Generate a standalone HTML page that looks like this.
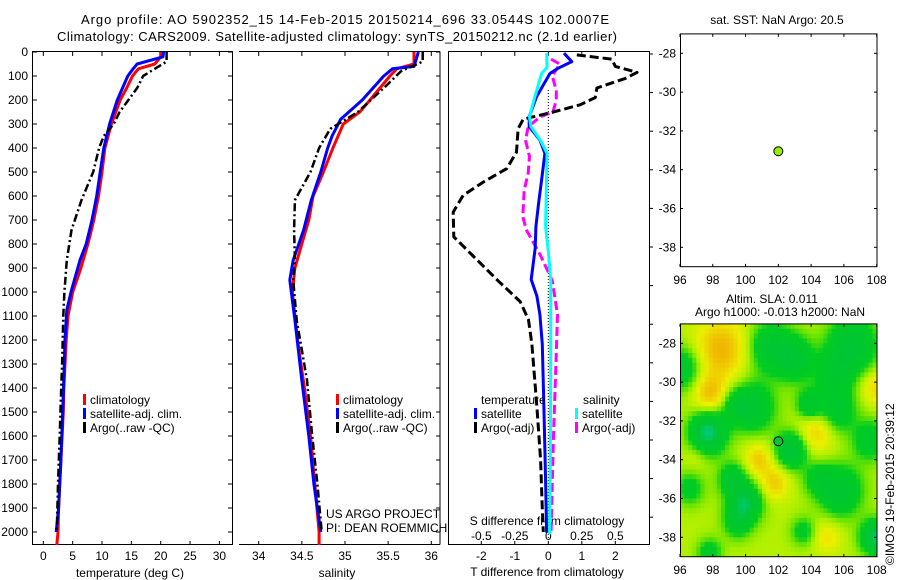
<!DOCTYPE html>
<html><head><meta charset="utf-8"><style>
body{margin:0;background:#fff;}
svg{display:block;font-family:"Liberation Sans",sans-serif;}
text{fill:#000;}
</style></head><body>
<svg id="c" width="900" height="580" viewBox="0 0 900 580" xmlns="http://www.w3.org/2000/svg">
<rect width="900" height="580" fill="#fff"/>
<text x="345" y="24" font-size="13" text-anchor="middle" textLength="528">Argo profile: AO 5902352_15 14-Feb-2015 20150214_696 33.0544S 102.0007E</text>
<text x="337" y="41" font-size="13" text-anchor="middle" textLength="560">Climatology: CARS2009. Satellite-adjusted climatology: synTS_20150212.nc (2.1d earlier)</text>
<g id="g"></g>
</svg>
<script>
// ---- data ----
const tempClimDepth=[0,20,50,70,100,150,200,300,400,500,600,700,800,900,1000,1100,1200,1300,1400,1500,1600,1700,1800,1900,2000,2054];
const tempClimVals=[20,20,19,16.2,15.2,14.2,13.1,11.6,10.5,10,9.4,8.6,7.6,6.4,5.0,4.2,3.9,3.7,3.5,3.4,3.2,3.0,2.8,2.6,2.5,2.3];
const tempSatDepth=[0,20,50,70,100,200,300,400,500,600,700,800,867,992,1075,1200,1367,1500,1700,1900,2000];
const tempSatVals=[20.5,20.4,16,15.3,14.4,12.6,11.3,10.3,9.7,9.1,8.3,7.3,6.25,4.8,4.0,3.7,3.5,3.3,3.0,2.6,2.2];
const tempArgoDepth=[0,40,70,100,150,200,250,300,350,400,500,617,742,867,1000,1100,1300,1367,1600,1800,2000];
const tempArgoVals=[21,21,19,17,16,14.5,13,12,10.3,9.5,8.5,6.5,4.8,4.0,3.6,3.4,3.2,3.1,2.8,2.5,2.3];
const salClimDepth=[0,50,70,100,200,250,300,400,500,600,700,800,900,1000,1200,1400,1600,1800,2000,2054];
const salClimVals=[35.8,35.8,35.6,35.52,35.29,35.17,34.98,34.86,34.75,34.63,34.58,34.5,34.42,34.39,34.45,34.53,34.6,34.65,34.7,34.7];
const salSatDepth=[0,60,70,100,200,280,350,400,500,617,742,867,950,1117,1367,1600,1800,2000];
const salSatVals=[35.85,35.8,35.55,35.45,35.2,34.95,34.85,34.8,34.72,34.61,34.52,34.40,34.36,34.42,34.5,34.58,34.64,34.72];
const salArgoDepth=[0,40,80,150,250,320,400,500,617,742,867,950,1117,1367,1600,1800,2000];
const salArgoVals=[35.9,35.9,35.65,35.45,35.15,34.83,34.7,34.6,34.42,34.41,34.42,34.4,34.44,34.56,34.62,34.68,34.73];
const dTsatDepth=[5,40,68,89,186,270,311,367,422,533,630,728,817,948,1017,1094,1218,1479,1787,2002];
const dTsatVals=[0.47,0.7,0.29,0.05,-0.35,-0.57,-0.57,-0.25,-0.1,-0.2,-0.29,-0.37,-0.39,-0.51,-0.34,-0.25,-0.18,-0.13,-0.08,-0.05];
const dTargoDepth=[12,30,60,85,110,150,190,220,250,280,320,417,486,542,597,667,770,848,953,1040,1116,1218,1479,1700,1904,2000];
const dTargoVals=[0.85,1.9,2.0,2.65,2.3,1.45,1.4,0.95,0.15,-0.75,-0.9,-0.95,-1.24,-1.94,-2.54,-2.84,-2.82,-2.26,-1.5,-0.84,-0.59,-0.49,-0.34,-0.23,-0.18,-0.15];
const dSsatDepth=[5,65,89,186,270,311,367,422,728,830,950,1300,1700,2010];
const dSsatVals=[-0.012,-0.01,-0.05,-0.1,-0.14,-0.13,-0.06,-0.01,-0.02,0,0.018,0.018,0.015,0.01];
const dSargoDepth=[30,50,100,160,200,250,270,311,367,436,505,575,686,740,848,953,1094,1317,1610,1904,2010];
const dSargoVals=[0.02,0.085,0.03,0.06,0.06,0.035,-0.06,-0.15,-0.17,-0.14,-0.15,-0.18,-0.19,-0.165,-0.058,0.03,0.069,0.056,0.038,0.025,0.02];
const depthTicks=[0,100,200,300,400,500,600,700,800,900,1000,1100,1200,1300,1400,1500,1600,1700,1800,1900,2000];
const tempTicks=[0,5,10,15,20,25,30];
const salTicks=[34,34.5,35,35.5,36];
const tdTicks=[-2,-1,0,1,2];
const sdTicks=[-0.5,-0.25,0,0.25,0.5];
const lonTicks=[96,98,100,102,104,106,108];
const latTicks=[-28,-30,-32,-34,-36,-38];
// SLA blobs: lon, lat, radius(deg), amplitude
const blobLon=[98.5,97.8,96.2,101.5,103.0,106.5,105.4,107.9,100.5,99.4,103.9,105.6,104.3,97.7,102.8,107.6,100.8,101.8,99.2,105.8,104.4,100.0,96.6,99.5,103.5,105.0,107.9,97.8,97.0];
const blobLat=[-28.3,-30.6,-29.3,-28.2,-28.8,-28.1,-29.6,-30.3,-31.3,-31.2,-31.2,-31.5,-32.5,-32.6,-33.5,-33.0,-34.0,-35.2,-35.0,-35.6,-35.0,-36.2,-35.5,-37.2,-37.7,-38.0,-38.0,-38.8,-33.8];
const blobR=[1.1,0.7,0.8,0.9,0.8,1.0,0.8,0.6,0.9,0.6,0.55,0.8,0.8,0.75,0.65,0.7,0.6,0.6,0.6,0.9,0.6,0.7,0.6,0.6,0.5,0.6,0.6,0.5,0.5];
const blobAmp=[0.8,0.7,-0.8,-0.9,-0.9,-1.1,-0.7,0.5,-0.9,-0.6,-0.9,-0.8,0.6,-1.5,-1.2,-0.8,0.6,0.6,-0.8,-1.0,-0.6,-1.2,-0.6,-0.7,-0.6,0.4,-1.4,-0.7,0.2];
const profLon=[102.0];
const profLat=[-33.05];

// ---- scales ----
const NS="http://www.w3.org/2000/svg";
const G=document.getElementById('g');
const yD=d=>52+d*0.24;
const xT=v=>43.3+v*5.87;
const xS=v=>258.7+(v-34)*86.3;
const xTd=v=>548.3+v*33.5;
const xSd=v=>548.3+v*134;
const xLon=l=>680+(l-96)*16.39;
const yLat1=l=>53.3+(-28-l)*19.4;
const yLat2=l=>343.3+(-28-l)*19.4;
function el(tag,attrs,parent){const e=document.createElementNS(NS,tag);for(const k in attrs)e.setAttribute(k,attrs[k]);(parent||G).appendChild(e);return e;}
function txt(x,y,s,size,anchor,name){const t=el('text',{x:x,y:y,'font-size':size,'text-anchor':anchor||'start'});t.textContent=s;


return t;}
function line(x1,y1,x2,y2,name,extra){const l=el('line',Object.assign({x1:x1,y1:y1,x2:x2,y2:y2,stroke:'#000','stroke-width':1},extra||{}));


return l;}
function profile(depths,vals,xf,color,width,dash,name){
 const pts=depths.map((d,i)=>xf(vals[i]).toFixed(1)+','+yD(d).toFixed(1)).join(' ');
 const p=el('polyline',{points:pts,fill:'none',stroke:color,'stroke-width':width,'stroke-linejoin':'round'});
 if(dash)p.setAttribute('stroke-dasharray',dash);
 
 
}
// ---- panel frames ----
function frame(x,y,w,h,name){const r=el('rect',{x:x,y:y,width:w,height:h,fill:'none',stroke:'#000','stroke-width':1});

}
frame(32.5,51.5,200,493,'temperature-panel');
line(239,51.5,440,51.5,'salinity-panel-top');line(239,544.5,440,544.5,'salinity-panel-bottom');line(440,51.5,440,544.5,'salinity-panel-right');
frame(448.5,51.5,201,493,'difference-panel');
// depth axis
depthTicks.forEach(d=>{const y=yD(d);line(32,y,37,y,'depth-tick');line(228,y,232,y,'depth-tick-right');line(440,y,436,y,'sal-depth-tick');
 txt(28,y+4,String(d),12,'end','depth-tick-label');});
for(let k=0;k<13;k++){const y=54+38.6*k;line(649,y,653,y,'diff-right-tick');}
// temperature axis
tempTicks.forEach(v=>{const x=xT(v);line(x,52,x,56,'temp-top-tick');line(x,545,x,541,'temp-bottom-tick');txt(x,560,String(v),12,'middle','temp-tick-label');});
txt(130,577,'temperature (deg C)',12,'middle','temperature-axis-title');
salTicks.forEach(v=>{const x=xS(v);line(x,52,x,56,'sal-top-tick');line(x,545,x,541,'sal-bottom-tick');txt(x,560,String(v),12,'middle','sal-tick-label');});
txt(337,577,'salinity',12,'middle','salinity-axis-title');
tdTicks.forEach(v=>{const x=xTd(v);line(x,52,x,56,'td-top-tick');line(x,545,x,541,'td-bottom-tick');txt(x,560,String(v),12,'middle','td-tick-label');});
txt(547,576,'T difference from climatology',12,'middle','t-difference-axis-title');
txt(547,525,'S difference from climatology',12,'middle','s-difference-axis-title');
sdTicks.forEach(v=>{txt(xSd(v),540,String(v),12,'middle','sd-tick-label');});
line(548.3,90,548.3,540,'zero-line',{'stroke-dasharray':'1 2'});
// profiles
profile(tempClimDepth,tempClimVals,xT,'#f00',3,null,'temp-climatology-line');
profile(tempSatDepth,tempSatVals,xT,'#00f',3,null,'temp-satellite-line');
profile(tempArgoDepth,tempArgoVals,xT,'#000',2.5,'8 3 2 3','temp-argo-line');
profile(salClimDepth,salClimVals,xS,'#f00',3,null,'sal-climatology-line');
profile(salSatDepth,salSatVals,xS,'#00f',3,null,'sal-satellite-line');
profile(salArgoDepth,salArgoVals,xS,'#000',2.5,'8 3 2 3','sal-argo-line');
profile(dSargoDepth,dSargoVals,xSd,'#f0f',3,'9 4','s-diff-argo-line');
profile(dTargoDepth,dTargoVals,xTd,'#000',3,'9 4','t-diff-argo-line');
profile(dTsatDepth,dTsatVals,xTd,'#00f',3,null,'t-diff-satellite-line');
profile(dSsatDepth,dSsatVals,xSd,'#0ff',3,null,'s-diff-satellite-line');
// legends
function leg(x,y,color,label,name){const r=el('rect',{x:x,y:y-10,width:3,height:11,fill:color});


txt(x+7,y,label,12,'start',name+'-label');}
leg(83,404,'#f00','climatology','legend-climatology');
leg(83,418,'#00f','satellite-adj. clim.','legend-satellite');
leg(83,432,'#000','Argo(..raw -QC)','legend-argo');
leg(336,404,'#f00','climatology','legend2-climatology');
leg(336,418,'#00f','satellite-adj. clim.','legend2-satellite');
leg(336,432,'#000','Argo(..raw -QC)','legend2-argo');
txt(481,404,'temperature',12,'start','legend-temperature-heading');
txt(583,404,'salinity',12,'start','legend-salinity-heading');
leg(474,418,'#00f','satellite','legend-t-satellite');
leg(474,432,'#000','Argo(-adj)','legend-t-argo');
leg(575,418,'#0ff','satellite','legend-s-satellite');
leg(575,432,'#f0f','Argo(-adj)','legend-s-argo');
txt(326,518,'US ARGO PROJECT',12,'start','project-label');
txt(326,532,'PI: DEAN ROEMMICH',12,'start','pi-label');
// ---- maps ----
function mapAxes(yl,top,name){
 lonTicks.forEach(l=>{const x=xLon(l);line(x,top,x,top+3,name+'-lon-tick');line(x,top+233,x,top+230,name+'-lon-tick');
  txt(x,top+250,String(l),12,'middle',name+'-lon-label');});
 latTicks.forEach(l=>{const y=yl(l);line(680,y,683,y,name+'-lat-tick');line(877,y,874,y,name+'-lat-tick');
  txt(676,y+4,String(l),12,'end',name+'-lat-label');});
}
// heatmap
function sla(lon,lat){let v=0;for(let i=0;i<blobLon.length;i++){const dx=lon-blobLon[i],dy=lat-blobLat[i];v+=blobAmp[i]*Math.exp(-(dx*dx+dy*dy)/(2*blobR[i]*blobR[i]));}return v;}
const cStops=[[-1.8,[0,210,200]],[-1.2,[0,196,55]],[-0.45,[0,204,34]],[-0.2,[110,228,0]],[0,[180,240,0]],[0.3,[235,240,0]],[0.7,[240,190,0]],[1.1,[240,150,0]]];
function cmap(v){if(v<=cStops[0][0])return cStops[0][1];for(let i=1;i<cStops.length;i++){if(v<=cStops[i][0]){const a=cStops[i-1],b=cStops[i],t=(v-a[0])/(b[0]-a[0]);return a[1].map((c,k)=>Math.round(c+(b[1][k]-c)*t));}}return cStops[cStops.length-1][1];}
const hm=el('g',{});


const step=0.25;
for(let lon=96;lon<108;lon+=step){for(let lat=-27;lat>-39;lat-=step){
 const c=cmap(sla(lon+step/2,lat-step/2));
 const x0=xLon(lon),y0=yLat2(lat);
 const r=el('rect',{x:x0.toFixed(2),y:y0.toFixed(2),width:(xLon(lon+step)-x0+0.4).toFixed(2),height:(yLat2(lat-step)-y0+0.4).toFixed(2),fill:'rgb('+c.join(',')+')'},hm);
 
 
}}
frame(680.5,yLat1(-27),196.5,yLat1(-39)-yLat1(-27),'sst-map-frame');
frame(680.5,yLat2(-27),196.5,yLat2(-39)-yLat2(-27),'sla-map-frame');
mapAxes(yLat1,yLat1(-27),'sst-map');
mapAxes(yLat2,yLat2(-27),'sla-map');
const d1=el('circle',{cx:xLon(profLon[0]),cy:yLat1(profLat[0]),r:4.5,fill:'#99ee00',stroke:'#000','stroke-width':1});


const d2=el('circle',{cx:xLon(profLon[0]),cy:yLat2(profLat[0]),r:4.5,fill:'#00c830',stroke:'#000','stroke-width':1});


txt(777,24,'sat. SST: NaN Argo: 20.5',12,'middle','sst-map-title');
txt(772,303,'Altim. SLA: 0.011',12,'middle','sla-map-title-1');
txt(780,316,'Argo h1000: -0.013 h2000: NaN',12,'middle','sla-map-title-2');
const cp=txt(0,0,'©IMOS 19-Feb-2015 20:39:12',12,'start','copyright-stamp');
cp.setAttribute('transform','translate(894,565) rotate(-90)');
</script>
</body></html>
